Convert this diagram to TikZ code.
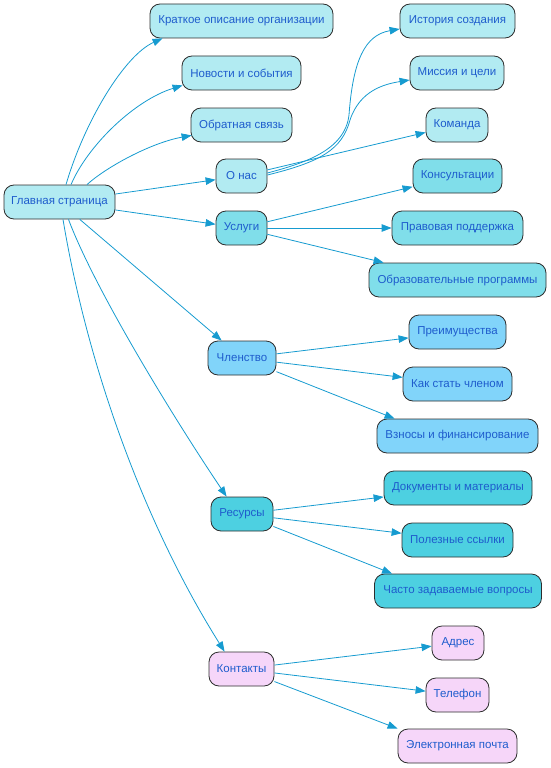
\documentclass[tikz,border=0pt]{standalone}
\usepackage{fontspec}
\setmainfont{Liberation Sans}
\usetikzlibrary{arrows.meta,calc}
\definecolor{cA}{HTML}{B2EBF2}
\definecolor{cB}{HTML}{80DEEA}
\definecolor{cC}{HTML}{81D4FA}
\definecolor{cD}{HTML}{4DD0E1}
\definecolor{cE}{HTML}{F6D6F9}
\definecolor{txt}{RGB}{30,92,205}
\definecolor{edgec}{RGB}{22,155,208}
\definecolor{bord}{RGB}{45,45,45}
\begin{document}
\begin{tikzpicture}[x=1pt,y=-1pt,
  nbox/.style={draw=bord, line width=0.8pt, rounded corners=10pt, minimum height=34pt,
    inner sep=0pt, text=txt, font=\fontsize{11.5}{13}\selectfont, align=center},
  edg/.style={draw=edgec, line width=0.8pt, -{Triangle[length=10pt,width=7.5pt]}}]
\useasboundingbox (0,0) rectangle (551,768);
% nodes
\node[nbox, fill=cA, minimum width=111pt] (main) at (59.5,202) {Главная страница};
\node[nbox, fill=cA, minimum width=183pt] (kr) at (241.5,21) {Краткое описание организации};
\node[nbox, fill=cA, minimum width=119pt] (nov) at (241.5,73) {Новости и события};
\node[nbox, fill=cA, minimum width=101pt] (obs) at (241.5,125) {Обратная связь};
\node[nbox, fill=cA, minimum width=51pt] (onas) at (241.5,176) {О нас};
\node[nbox, fill=cB, minimum width=51pt] (usl) at (241.5,228) {Услуги};
\node[nbox, fill=cC, minimum width=68pt] (chl) at (242,358) {Членство};
\node[nbox, fill=cD, minimum width=62pt] (res) at (242,514) {Ресурсы};
\node[nbox, fill=cE, minimum width=65pt] (kon) at (241.5,669) {Контакты};
\node[nbox, fill=cA, minimum width=115pt] (ist) at (457.5,21) {История создания};
\node[nbox, fill=cA, minimum width=94pt] (mis) at (457,73) {Миссия и цели};
\node[nbox, fill=cA, minimum width=62pt] (kom) at (457,125) {Команда};
\node[nbox, fill=cB, minimum width=89pt] (kons) at (457.5,176) {Консультации};
\node[nbox, fill=cB, minimum width=131pt] (prav) at (457.5,228) {Правовая поддержка};
\node[nbox, fill=cB, minimum width=177pt] (obrp) at (457.5,280) {Образовательные программы};
\node[nbox, fill=cC, minimum width=97pt] (pre) at (457.5,332) {Преимущества};
\node[nbox, fill=cC, minimum width=109pt] (kak) at (457.5,384) {Как стать членом};
\node[nbox, fill=cC, minimum width=161pt] (vzn) at (457.5,436) {Взносы и финансирование};
\node[nbox, fill=cD, minimum width=148pt] (dok) at (458,488) {Документы и материалы};
\node[nbox, fill=cD, minimum width=111pt] (pol) at (457.5,540) {Полезные ссылки};
\node[nbox, fill=cD, minimum width=167pt] (cha) at (458,591) {Часто задаваемые вопросы};
\node[nbox, fill=cE, minimum width=52pt] (adr) at (458,643) {Адрес};
\node[nbox, fill=cE, minimum width=63pt] (tel) at (457.5,695) {Телефон};
\node[nbox, fill=cE, minimum width=119pt] (ep) at (457.5,746) {Электронная почта};
% edges from main
\draw[edg] ($(main.north)+(6.5,0)$) .. controls (85,120) and (125,55) .. ($(kr.south west)+(13,0)$);
\draw[edg] ($(main.north)+(11.5,0)$) .. controls (88,145) and (135,100) .. ($(nov.south west)+(1,-5)$);
\draw[edg] ($(main.north)+(27.5,0)$) .. controls (105,168) and (150,143) .. ($(obs.south west)+(1,-7)$);
\draw[edg] (main) -- (onas);
\draw[edg] (main) -- (usl);
\draw[edg] (main) -- (chl);
\draw[edg] ($(main.south)+(9,0)$) .. controls (95,290) and (175,420) .. ($(res.north west)+(16,0)$);
\draw[edg] ($(main.south)+(3.5,0)$) .. controls (88,369) and (145,525) .. ($(kon.north west)+(16,0)$);
% О нас
\draw[edg] ($(onas.east)+(0,-3)$) .. controls (305,163) and (345,150) .. (349,115)
  .. controls (353,60) and (365,35) .. ($(ist.west)+(0,8)$);
\draw[edg] ($(onas.east)+(0,-1)$) .. controls (320,162) and (342,150) .. (350,120)
  .. controls (360,90) and (385,84) .. ($(mis.west)+(0,7)$);
\draw[edg] (onas) -- (kom);
% Услуги
\draw[edg] (usl) -- (kons);
\draw[edg] (usl) -- (prav);
\draw[edg] (usl) -- ($(obrp.north west)+(15,0)$);
% Членство
\draw[edg] (chl) -- (pre);
\draw[edg] (chl) -- (kak);
\draw[edg] (chl) -- ($(vzn.north west)+(18,0)$);
% Ресурсы
\draw[edg] (res) -- (dok);
\draw[edg] (res) -- (pol);
\draw[edg] (res) -- ($(cha.north west)+(18,0)$);
% Контакты
\draw[edg] (kon) -- (adr);
\draw[edg] (kon) -- (tel);
\draw[edg] (kon) -- (ep.north west);
\end{tikzpicture}
\end{document}
